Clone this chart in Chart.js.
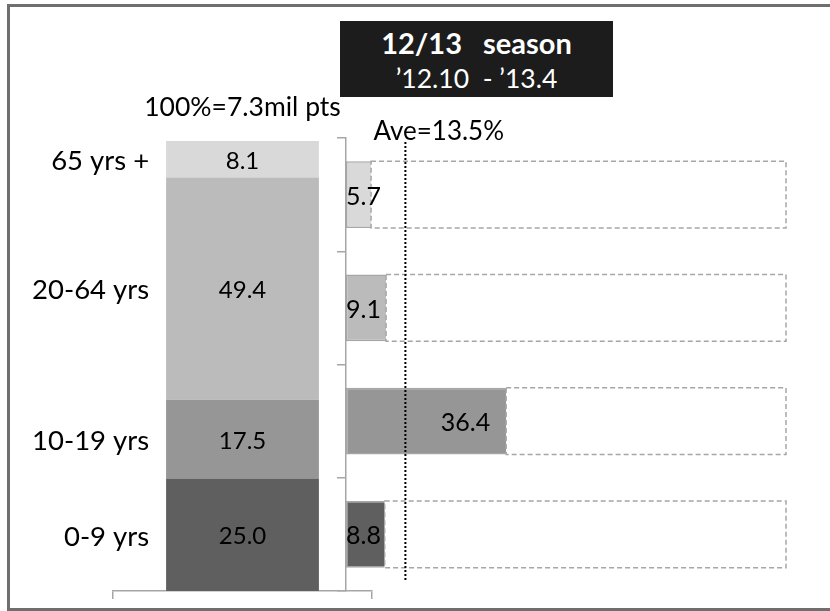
<!DOCTYPE html>
<html><head><meta charset="utf-8">
<script src="https://cdn.jsdelivr.net/npm/chart.js@4.4.1/dist/chart.umd.min.js"></script>
<style>
html,body{margin:0;padding:0;background:#fff;}
#wrap{position:relative;width:830px;height:611px;overflow:hidden;font-family:Lato,"Open Sans",sans-serif;}
#frame{position:absolute;left:7px;top:4px;width:840px;height:607px;border:3px solid #6f6f6f;box-sizing:border-box;}
canvas{position:absolute;left:0;top:0;}
#title{position:absolute;left:340px;top:21px;width:273px;height:76px;background:#1c1c1c;color:#fff;}
#title div{position:absolute;left:0;width:100%;text-align:center;white-space:pre;}
#t1{top:7px;font-size:29px;line-height:29px;font-weight:bold;}
#t2{top:44px;font-size:26.5px;line-height:26px;}
</style></head>
<body>
<div id="wrap">
  <div id="frame"></div>
  <canvas id="c1" width="830" height="611"></canvas>
  <canvas id="c2" width="830" height="611"></canvas>
  <div id="title"><div id="t1"></div><div id="t2"></div></div>
</div>
<script>
// ---- data ----
const categories = ["0-9 yrs", "10-19 yrs", "20-64 yrs", "65 yrs +"];
const sharePct = [25.0, 17.5, 49.4, 8.1];      // share of patients (%)
const ratePct = [8.8, 36.4, 9.1, 5.7];         // rate per age group (%)
const averagePct = 13.5;
const fullScale = 100;
const totalLabel = "100%=7.3mil pts";
const titleLine1 = "12/13   season";
const titleLine2 = "\u201912.10  - \u201913.4";

// ---- styles ----
const colors = ["#5f5f5f", "#969696", "#bbbbbb", "#d9d9d9"];
const FONT = "Lato, 'Open Sans', sans-serif";
const axisGray = "#a6a6a6";

document.getElementById('t1').textContent = titleLine1;
document.getElementById('t2').textContent = titleLine2;

Chart.defaults.font.family = FONT;

const leftLabels = {
  id: 'leftLabels',
  afterDatasetsDraw(chart) {
    const ctx = chart.ctx;
    ctx.save();
    ctx.fillStyle = '#000';
    ctx.textBaseline = 'middle';
    let cx = null;
    chart.data.datasets.forEach((ds, i) => {
      const el = chart.getDatasetMeta(i).data[0];
      const cy = (el.y + el.base) / 2;
      cx = el.x;
      ctx.font = "24px " + FONT;
      ctx.textAlign = 'center';
      ctx.fillText(ds.data[0].toFixed(1), el.x, cy + 2);
      ctx.font = "27.5px " + FONT;
      ctx.textAlign = 'right';
      ctx.fillText(ds.label, el.x - el.width / 2 - 17, cy + 2);
    });
    ctx.font = "26.5px " + FONT;
    ctx.textAlign = 'center';
    ctx.fillText(totalLabel, cx, chart.chartArea.top - 34);
    ctx.restore();
  }
};

new Chart(document.getElementById('c1'), {
  type: 'bar',
  data: {
    labels: [''],
    datasets: categories.map((c, i) => ({
      label: c, data: [sharePct[i]], backgroundColor: colors[i], borderWidth: 0,
      barPercentage: 0.59, categoryPercentage: 1
    }))
  },
  options: {
    responsive: false, animation: false, devicePixelRatio: 1,
    layout: { padding: { left: 113, right: 458, top: 141, bottom: 12 } },
    plugins: { legend: { display: false }, tooltip: { enabled: false } },
    scales: {
      x: {
        stacked: true,
        grid: { display: true, drawOnChartArea: false, drawTicks: true, tickLength: 8, color: axisGray, lineWidth: 1.5, offset: true },
        border: { display: true, color: axisGray, width: 1.5 },
        ticks: { display: false },
        afterFit(s) { s.height = 8; }
      },
      y: { stacked: true, display: false, min: 0, max: fullScale }
    }
  },
  plugins: [leftLabels]
});

const rightDecor = {
  id: 'rightDecor',
  afterDatasetsDraw(chart) {
    const ctx = chart.ctx;
    const xs = chart.scales.x;
    const ca = chart.chartArea;
    const meta = chart.getDatasetMeta(0);
    const xFull = xs.getPixelForValue(fullScale);
    ctx.save();
    // dashed remainder boxes
    ctx.strokeStyle = axisGray;
    ctx.lineWidth = 1.5;
    ctx.setLineDash([5, 3]);
    meta.data.forEach(el => {
      const top = el.y - el.height / 2, bot = el.y + el.height / 2;
      ctx.strokeRect(el.x, top, xFull - el.x, bot - top);
    });
    // average line
    const xa = xs.getPixelForValue(averagePct);
    ctx.setLineDash([2, 2]);
    ctx.strokeStyle = '#000';
    ctx.lineWidth = 2;
    ctx.beginPath();
    ctx.moveTo(xa, ca.top + 4);
    ctx.lineTo(xa, ca.bottom - 11);
    ctx.stroke();
    ctx.setLineDash([]);
    // labels
    ctx.fillStyle = '#000';
    ctx.textBaseline = 'middle';
    ctx.font = "26px " + FONT;
    ctx.textAlign = 'left';
    ctx.fillText("Ave=" + averagePct.toFixed(1) + "%", xa - 32, ca.top - 6);
    ctx.font = "25px " + FONT;
    ctx.textAlign = 'right';
    meta.data.forEach((el, i) => {
      const t = ratePct[i].toFixed(1);
      const w = ctx.measureText(t).width;
      const right = Math.max(ca.left + w, el.x - 16);
      ctx.fillText(t, right, el.y + 2);
    });
    ctx.restore();
  }
};

new Chart(document.getElementById('c2'), {
  type: 'bar',
  data: {
    labels: categories,
    datasets: [{
      data: ratePct, backgroundColor: colors, borderColor: axisGray,
      borderWidth: { top: 1.5, bottom: 1.5, left: 1.5, right: 0 }, borderSkipped: false,
      barPercentage: 0.59, categoryPercentage: 1
    }]
  },
  options: {
    indexAxis: 'y', responsive: false, animation: false, devicePixelRatio: 1,
    layout: { padding: { left: 337, right: 44, top: 138, bottom: 20 } },
    plugins: { legend: { display: false }, tooltip: { enabled: false } },
    scales: {
      y: {
        reverse: true,
        grid: { display: true, drawOnChartArea: false, drawTicks: true, tickLength: 9, color: axisGray, lineWidth: 1.5, offset: true },
        border: { display: true, color: axisGray, width: 1.5 },
        ticks: { display: false },
        afterFit(s) { s.width = 9; }
      },
      x: { min: 0, max: fullScale, display: false }
    }
  },
  plugins: [rightDecor]
});
</script>
</body></html>
